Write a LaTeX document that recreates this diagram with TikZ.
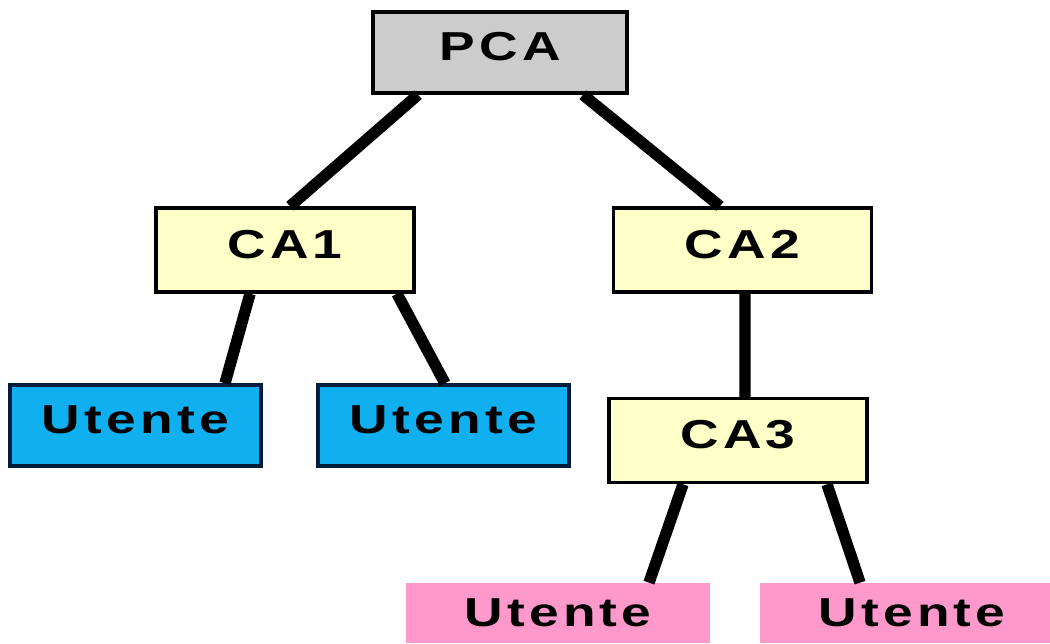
\documentclass[tikz,border=0pt]{standalone}
\usepackage{fontspec}
\usepackage{tikz}
\newfontfamily\boxfont{Liberation Sans}[LetterSpace=8]
\newcommand{\boxtext}[1]{\scalebox{1.32}[1]{#1}}
\definecolor{pcagray}{RGB}{204,204,204}
\definecolor{cayellow}{RGB}{255,255,200}
\definecolor{userblue}{RGB}{16,176,240}
\definecolor{userborder}{RGB}{0,30,60}
\definecolor{userpink}{RGB}{255,153,204}

\begin{document}
\begin{tikzpicture}[x=0.02cm,y=-0.02cm,
  box/.style={rectangle,inner sep=0pt,text depth=0.24cm,font=\boxfont\bfseries\fontsize{23}{27}\selectfont},
  ca/.style={box,draw,line width=2pt,fill=cayellow,minimum width=5.16cm,minimum height=1.68cm},
  blueuser/.style={box,draw=userborder,line width=2pt,fill=userblue,minimum width=5.02cm,minimum height=1.62cm},
  pinkuser/.style={box,text depth=0pt,fill=userpink,minimum width=6.08cm,minimum height=1.2cm},
  link/.style={line width=6.5pt}]
\clip (0,0) rectangle (1050,643);
\fill[white] (0,0) rectangle (1050,643);

\node[box,draw,line width=2pt,fill=pcagray,minimum width=5.08cm,minimum height=1.62cm] (pca) at (500,52.5) {\boxtext{PCA}};
\node[ca] (ca1) at (285,250) {\boxtext{CA1}};
\node[ca] (ca2) at (742.5,250) {\boxtext{CA2}};
\node[ca] (ca3) at (738,440.5) {\boxtext{CA3}};
\node[blueuser] (u1) at (135.5,425.5) {\boxtext{Utente}};
\node[blueuser] (u2) at (443.5,425.5) {\boxtext{Utente}};
\node[pinkuser] (u3) at (558,613) {\boxtext{Utente}};
\node[pinkuser] (u4) at (912,613) {\boxtext{Utente}};

\draw[link] ([xshift=-1.64cm]pca.south) -- ([xshift=0.1cm]ca1.north);
\draw[link] ([xshift=1.66cm]pca.south) -- ([xshift=-0.45cm]ca2.north);
\draw[link] ([xshift=-0.7cm]ca1.south) -- ([xshift=1.79cm]u1.north);
\draw[link] ([xshift=2.24cm]ca1.south) -- ([xshift=0.03cm]u2.north);
\draw[link] ([xshift=0.05cm]ca2.south) -- ([xshift=0.14cm]ca3.north);
\draw[link] ([xshift=-1.1cm]ca3.south) -- ([xshift=1.82cm]u3.north);
\draw[link] ([xshift=1.78cm]ca3.south) -- ([xshift=-1.04cm]u4.north);
\end{tikzpicture}
\end{document}
